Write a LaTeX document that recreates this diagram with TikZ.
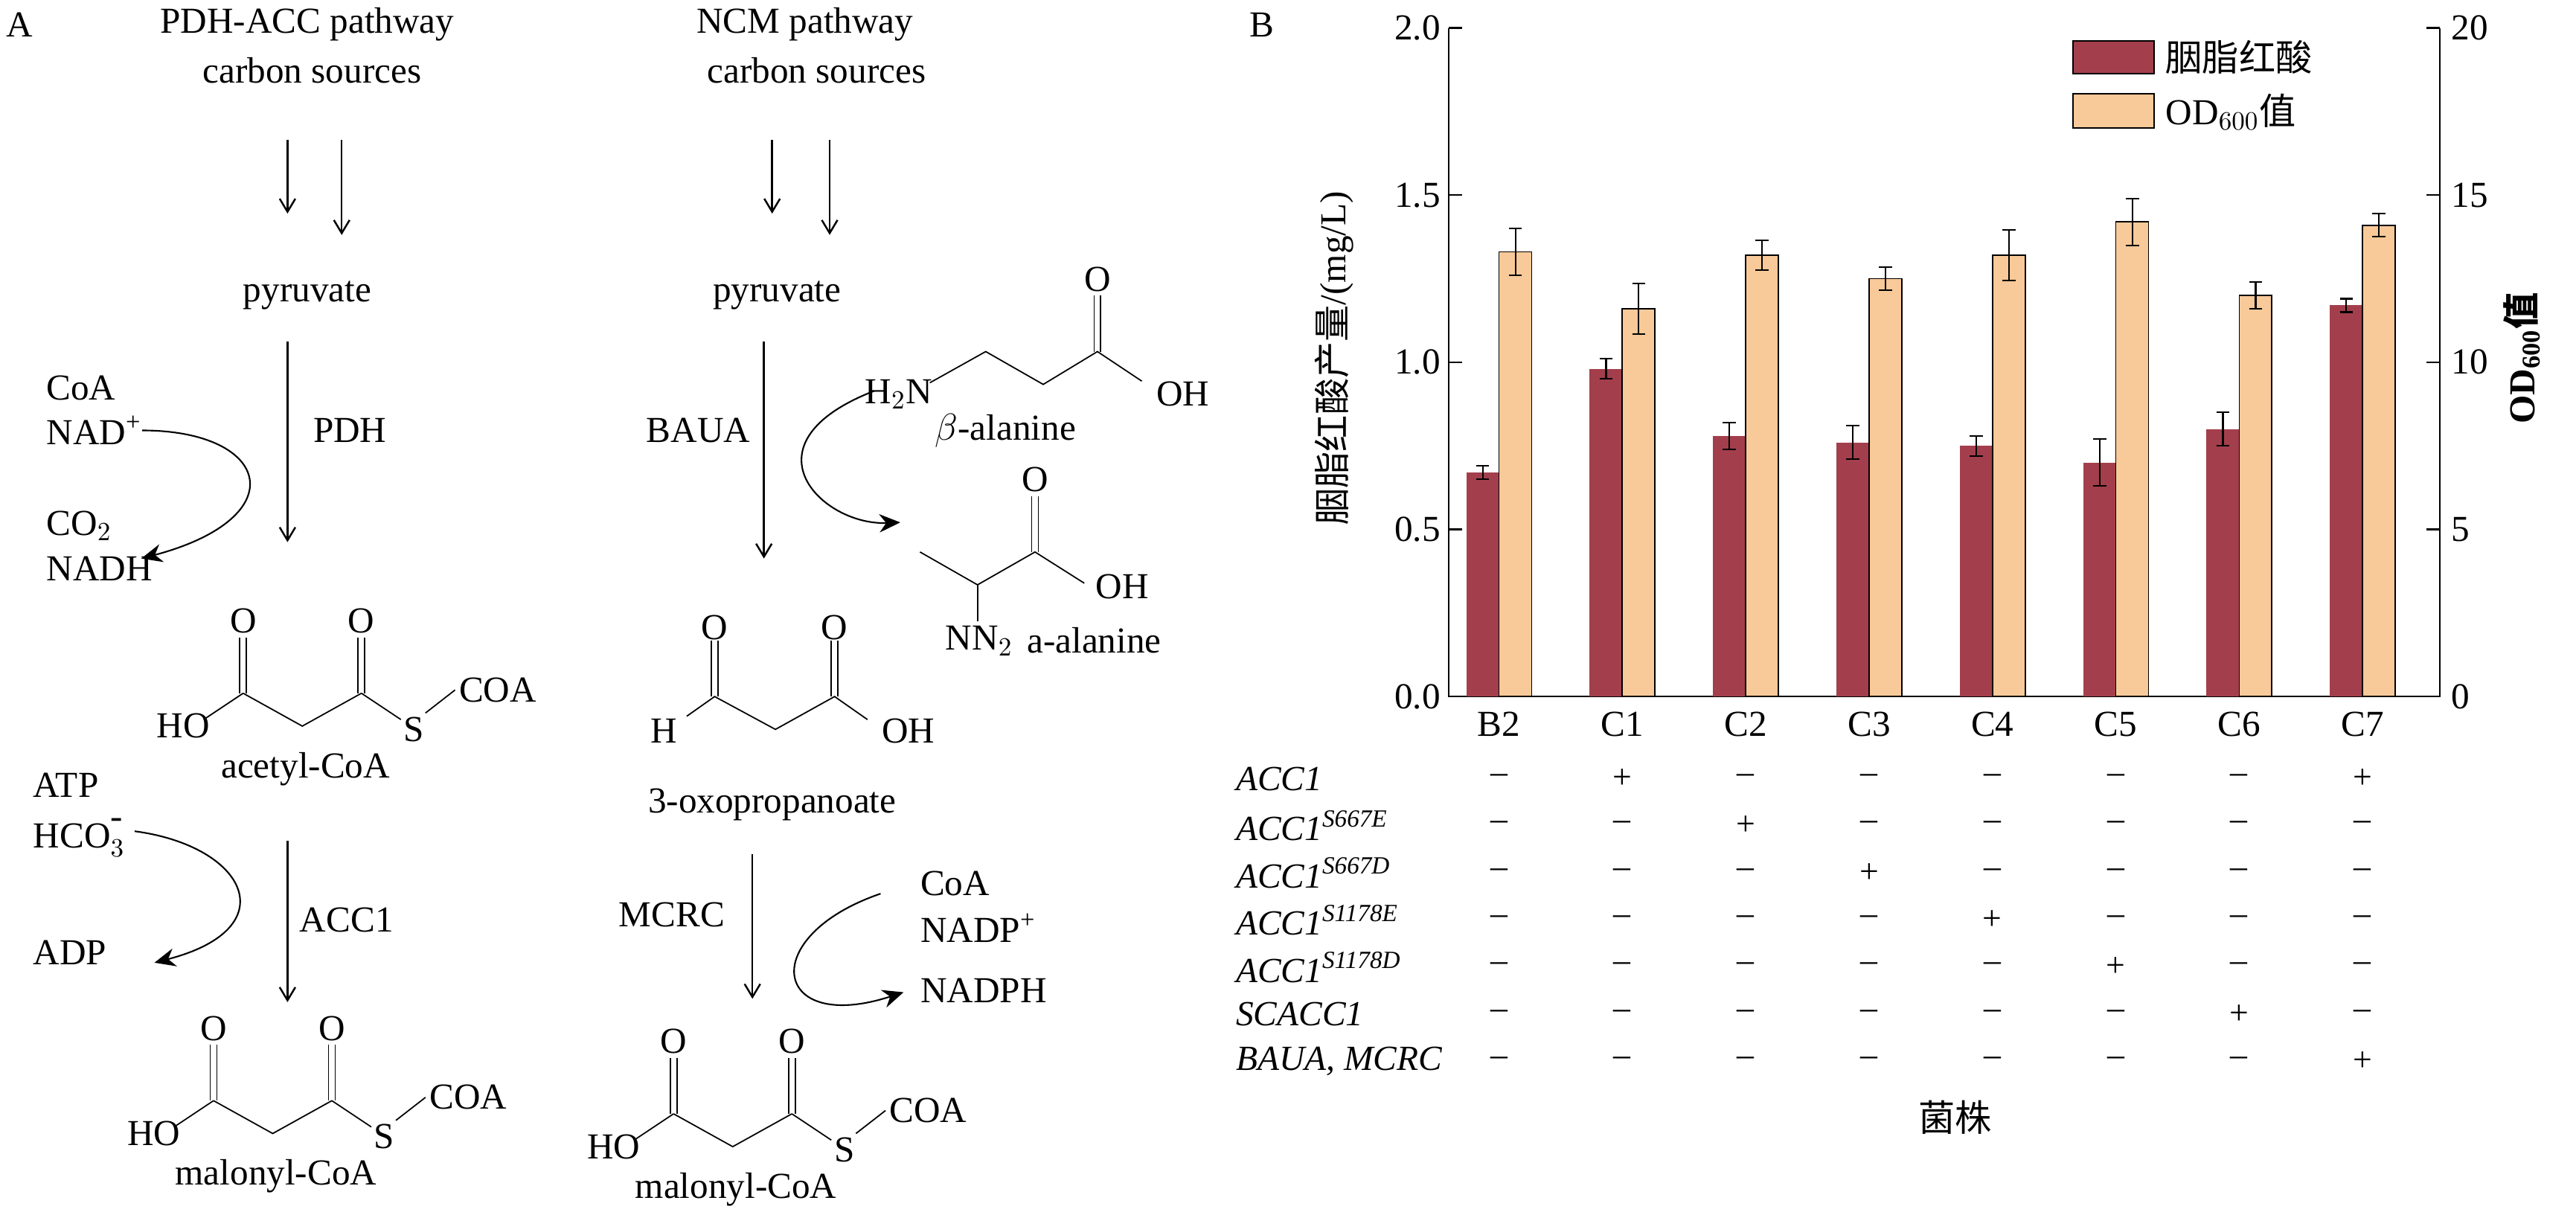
\documentclass[tikz,border=0pt]{standalone}
\usepackage{fontspec}
\setmainfont{Liberation Serif}
\newfontfamily\cjk{Noto Sans CJK SC}
\usetikzlibrary{arrows.meta}
\definecolor{barred}{HTML}{A33F4C}
\definecolor{barorg}{HTML}{F8C999}
\newcommand{\mystruct}[4]{% #1 x, #2 y, #3 prefix, #4 label
 \draw[bond] (#1,#2) -- ++(36,20) -- ++(36,-20);
 \draw[bond] (#1-2,#2) -- ++(0,-34) (#1+2,#2) -- ++(0,-34);
 \draw[bond] (#1+70,#2) -- ++(0,-34) (#1+74,#2) -- ++(0,-34);
 \node[txt] (#3o1) at (#1,#2-44) {O};
 \node[txt] (#3o2) at (#1+72,#2-44) {O};
 \draw[bond] (#1,#2) -- ++(-24,16);
 \node[txt,anchor=east] (#3ho) at (#1-20,#2+20) {HO};
 \draw[bond] (#1+72,#2) -- ++(24,16);
 \node[txt] (#3s) at (#1+104,#2+22) {S};
 \draw[bond] (#1+111,#2+12) -- ++(18,-14);
 \node[txt] (#3coa) at (#1+155,#2-2) {COA};
 \node[txt] (#3lab) at (#1+38,#2+46) {#4};
}
\begin{document}
\begin{tikzpicture}[x=0.02208cm,y=-0.02208cm,
 txt/.style={inner sep=0pt,font=\fontsize{14}{16}\selectfont},
 small/.style={inner sep=0pt,font=\fontsize{13}{15}\selectfont},
 bond/.style={line width=0.5pt},
 rx/.style={line width=0.7pt,-{Straight Barb[length=5pt,width=6pt]}},
 cx/.style={line width=0.6pt,-{Stealth[length=8pt,width=7pt]}},
 tick/.style={line width=0.6pt}]
\useasboundingbox (0,0) rectangle (1568,739.6);
% ---------- Panel A ----------
\node[txt] (A) at (12,15) {A};
\node[txt] (t1) at (187,15) {PDH-ACC pathway};
\node[txt] (t2) at (190,43) {carbon sources};
\node[txt] (t3) at (490,15) {NCM pathway};
\node[txt] (t4) at (497,43) {carbon sources};
\coordinate (a1s) at (175,85); \coordinate (a1e) at (175,130);
\coordinate (a2s) at (208,85); \coordinate (a2e) at (208,143);
\coordinate (a3s) at (470,85); \coordinate (a3e) at (470,130);
\coordinate (a4s) at (505,85); \coordinate (a4e) at (505,143);
\draw[rx] (a1s) -- (a1e); \draw[rx] (a2s) -- (a2e);
\draw[rx] (a3s) -- (a3e); \draw[rx] (a4s) -- (a4e);
\node[txt] (pyr1) at (187,180) {pyruvate};
\node[txt] (pyr2) at (473,180) {pyruvate};
% PDH
\coordinate (p1) at (175,208); \coordinate (p2) at (175,330);
\draw[rx] (p1) -- (p2);
\node[txt] (pdh) at (213,262) {PDH};
\node[txt,anchor=west] (coa1) at (28,236) {CoA};
\node[txt,anchor=west] (nad) at (28,262) {NAD\textsuperscript{+}};
\node[txt,anchor=west] (co2) at (28,320) {CO$_2$};
\node[txt,anchor=west] (nadh) at (28,346) {NADH};
\draw[cx] (nad.east) .. controls (165,262) and (180,315) .. (86,340);
% acetyl-CoA
\mystruct{148}{422}{ac}{acetyl-CoA}
% ACC1
\node[txt,anchor=west] (atp) at (20,478) {ATP};
\node[txt,anchor=west] (hco) at (20,510) {HCO$_3^{\raisebox{2pt}{-}}$};
\node[txt,anchor=west] (adp) at (20,580) {ADP};
\coordinate (c1) at (175,512); \coordinate (c2) at (175,610);
\draw[rx] (c1) -- (c2);
\node[txt] (acc) at (211,560) {ACC1};
\draw[cx] (82,506) .. controls (150,515) and (175,565) .. (94,586);
\mystruct{130}{670}{m1}{malonyl-CoA}
% NCM
\coordinate (n1) at (465,208); \coordinate (n2) at (465,340);
\draw[rx] (n1) -- (n2);
\node[txt] (baua) at (425,262) {BAUA};
\node[txt] (h2n) at (547,240) {H$_2$N};
\draw[bond] (566,233) -- (600,214) -- (635,234) -- (668,214) -- (695,232);
\draw[bond] (666,214) -- ++(0,-34) (670,214) -- ++(0,-34);
\node[txt] (bo) at (668,170) {O};
\node[txt] (boh) at (720,240) {OH};
\node[txt] (bala) at (612,262) {$\beta$-alanine};
\draw[cx] (532,238) .. controls (450,270) and (500,320) .. (548,318);
% a-alanine
\draw[bond] (560,336) -- (595,356) -- (630,336) -- (660,355);
\draw[bond] (628,336) -- ++(0,-34) (632,336) -- ++(0,-34);
\draw[bond] (595,356) -- (595,378);
\node[txt] (ao) at (630,292) {O};
\node[txt] (aoh) at (683,357) {OH};
\node[txt] (nn) at (596,390) {NN$_2$};
\node[txt] (aala) at (666,390) {a-alanine};
% 3-oxopropanoate
\draw[bond] (418,436) -- (435,424) -- (472,444) -- (508,424) -- (528,438);
\draw[bond] (433,424) -- ++(0,-34) (437,424) -- ++(0,-34);
\draw[bond] (506,424) -- ++(0,-34) (510,424) -- ++(0,-34);
\node[txt] (oo1) at (435,382) {O};
\node[txt] (oo2) at (508,382) {O};
\node[txt] (oh) at (404,445) {H};
\node[txt] (ooh) at (553,445) {OH};
\node[txt] (oxo) at (470,490) {3-oxopropanoate};
% MCRC
\coordinate (m1) at (458,520); \coordinate (m2) at (458,608);
\draw[rx] (m1) -- (m2);
\node[txt] (mcrc2) at (409,557) {MCRC};
\node[txt,anchor=west] (coa2) at (560,538) {CoA};
\node[txt,anchor=west] (nadp) at (560,565) {NADP\textsuperscript{+}};
\node[txt,anchor=west] (nadph) at (560,603) {NADPH};
\draw[cx] (536,544) .. controls (460,570) and (470,630) .. (550,604);
\mystruct{410}{678}{m2}{malonyl-CoA}
% ---------- Panel B ----------
\node[txt] (B) at (768,15) {B};
\draw[tick] (882,17) -- (882,424) -- (1485,424) -- (1485,17);
\foreach \v/\l in {0/0.0,0.5/0.5,1/1.0,1.5/1.5,2/2.0}{
  \draw[tick] (882,{424-\v*203.5}) -- (890,{424-\v*203.5});
  \node[txt,anchor=east] (yl\l) at (877,{424-\v*203.5}) {\l};}
\foreach \v in {0,5,10,15,20}{
  \draw[tick] (1485,{424-\v*20.35}) -- (1477,{424-\v*20.35});
  \node[txt,anchor=west] (yr\v) at (1492,{424-\v*20.35}) {\v};}
\foreach \i/\n/\r/\re/\o/\oe in {0/B2/0.67/0.02/13.3/0.7, 1/C1/0.98/0.03/11.6/0.75,
  2/C2/0.78/0.04/13.2/0.45, 3/C3/0.76/0.05/12.5/0.35, 4/C4/0.75/0.03/13.2/0.75,
  5/C5/0.70/0.07/14.2/0.7, 6/C6/0.80/0.05/12.0/0.4, 7/C7/1.17/0.02/14.1/0.35}{
  \pgfmathsetmacro\xa{892.5+75.1*\i}
  \fill[barred] (\xa,424) rectangle ({\xa+19.9},{424-\r*203.5});
  \draw[line width=0.5pt,fill=barorg] ({\xa+19.9},424) rectangle ({\xa+39.8},{424-\o*20.35});
  \draw[line width=0.6pt] ({\xa+10},{424-(\r-\re)*203.5}) -- ({\xa+10},{424-(\r+\re)*203.5})
     ({\xa+6},{424-(\r-\re)*203.5}) -- ({\xa+14},{424-(\r-\re)*203.5})
     ({\xa+6},{424-(\r+\re)*203.5}) -- ({\xa+14},{424-(\r+\re)*203.5});
  \draw[line width=0.6pt] ({\xa+29.9},{424-(\o-\oe)*20.35}) -- ({\xa+29.9},{424-(\o+\oe)*20.35})
     ({\xa+25.9},{424-(\o-\oe)*20.35}) -- ({\xa+33.9},{424-(\o-\oe)*20.35})
     ({\xa+25.9},{424-(\o+\oe)*20.35}) -- ({\xa+33.9},{424-(\o+\oe)*20.35});
  \node[txt] (cat\n) at ({\xa+19.9},441) {\n};
}
% legend
\draw[line width=0.6pt,fill=barred] (1262,25) rectangle (1311,45);
\draw[line width=0.6pt,fill=barorg] (1262,57) rectangle (1311,78);
\node[txt,anchor=west] (lg1) at (1318,35) {\cjk 胭脂红酸};
\node[txt,anchor=west] (lg2) at (1318,68) {OD$_{600}$\cjk 值};
\node[txt,rotate=90] (ylab) at (812,218) {\cjk 胭脂红酸产量\normalfont/(mg/L)};
\node[txt,rotate=90] (ylab2) at (1535,218) {\bfseries OD$_{\mathbf{600}}$\cjk 值};
% table
\foreach \r/\lab/\p in {0/{ACC1}/{1,7},1/{ACC1\textsuperscript{S667E}}/{2},
  2/{ACC1\textsuperscript{S667D}}/{3},3/{ACC1\textsuperscript{S1178E}}/{4},
  4/{ACC1\textsuperscript{S1178D}}/{5},5/{SCACC1}/{6},6/{BAUA, MCRC}/{7}}{
  \pgfmathsetmacro\yy{474+28.7*\r}
  \node[small,anchor=west,font=\fontsize{13.5}{15}\selectfont\itshape] (row\r) at (752,\yy) {\lab};
  \foreach \c in {0,...,7}{
    \foreach \q in \p {\ifnum\q=\c\relax\global\def\gs{+}\fi}
    \node[small] (s\r-\c) at ({912.4+75.1*\c},\yy) {\ifdefined\gs\gs\else --\fi};
    \global\let\gs\undefined
  }
}
\node[txt] (jz) at (1190,680) {\cjk 菌株};
\end{tikzpicture}
\end{document}
